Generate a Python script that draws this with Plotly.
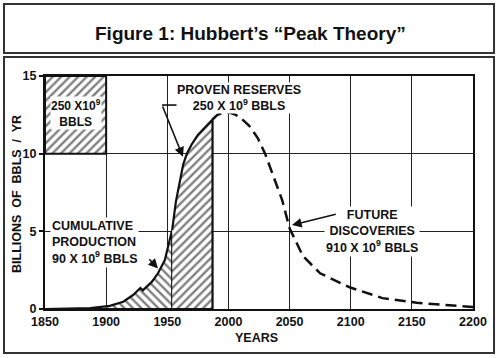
import plotly.graph_objects as go

# ---- data ----
prod_years = [1850, 1870, 1887, 1903, 1914, 1922, 1928, 1930, 1937.5, 1942.4, 1948, 1950.6, 1954]
prod_values = [0.0, 0.03, 0.06, 0.2, 0.47, 0.9, 1.35, 1.2, 1.76, 2.3, 3.15, 4.0, 5.1]

reserve_years = [1954, 1957, 1960, 1963, 1966, 1970, 1975, 1980, 1984, 1987]
reserve_values = [5.1, 6.9, 8.1, 9.3, 10.0, 10.6, 11.2, 11.6, 11.9, 12.2]

future_years = [1987, 1991, 1996, 2001, 2006, 2010, 2017, 2024, 2030, 2037, 2044, 2050,
                2061, 2075, 2099, 2126, 2154, 2200]
future_values = [12.2, 12.5, 12.65, 12.65, 12.5, 12.3, 11.8, 11.0, 10.0, 8.5, 7.0, 5.2,
                 3.4, 2.3, 1.4, 0.7, 0.4, 0.13]

box_years = [1850, 1900]
box_range = [10, 15]

x_ticks = [1850, 1900, 1950, 2000, 2050, 2100, 2150, 2200]
y_ticks = [0, 5, 10, 15]

FONT = "Liberation Sans"
INK = "#111111"

fig = go.Figure()

# Scale box 250 x 10^9
fig.add_trace(go.Scatter(
    x=[box_years[0], box_years[1], box_years[1], box_years[0], box_years[0]],
    y=[box_range[0], box_range[0], box_range[1], box_range[1], box_range[0]],
    mode="lines", fill="toself", fillcolor="white",
    fillpattern=dict(shape="/", size=6, solidity=0.4, fgcolor="#000000", bgcolor="white"),
    line=dict(color=INK, width=2), hoverinfo="skip", showlegend=False))

# Cumulative production (hatched "\")
fig.add_trace(go.Scatter(
    x=prod_years + [prod_years[-1], prod_years[0]],
    y=prod_values + [0, 0],
    mode="lines", fill="toself", fillcolor="white",
    fillpattern=dict(shape="\\", size=6, solidity=0.4, fgcolor="#000000", bgcolor="white"),
    line=dict(color=INK, width=2.2), hoverinfo="skip", showlegend=False))

# Proven reserves (hatched "/")
fig.add_trace(go.Scatter(
    x=reserve_years + [reserve_years[-1], reserve_years[0]],
    y=reserve_values + [0, 0],
    mode="lines", fill="toself", fillcolor="white",
    fillpattern=dict(shape="/", size=6, solidity=0.4, fgcolor="#000000", bgcolor="white"),
    line=dict(color=INK, width=2.2), hoverinfo="skip", showlegend=False))

# Future discoveries (dashed)
fig.add_trace(go.Scatter(
    x=future_years, y=future_values, mode="lines",
    line=dict(color=INK, width=2.5, dash="11px,6px"),
    hoverinfo="skip", showlegend=False))

tf = dict(family=FONT, size=12.5, color=INK, weight=700)

annotations = [
    dict(x=0.479, y=1.1845, xref="paper", yref="paper", showarrow=False,
         xanchor="center", yanchor="middle",
         text="<b>Figure 1: Hubbert\u2019s \u201cPeak Theory\u201d</b>",
         font=dict(family=FONT, size=19, color="#111111")),
    dict(x=0.493, y=-0.1245, xref="paper", yref="paper", showarrow=False,
         xanchor="center", yanchor="middle", text="YEARS", font=tf),
    dict(x=-0.0654, y=0.4936, xref="paper", yref="paper", showarrow=False, textangle=-90,
         xanchor="center", yanchor="middle", text="BILLIONS  OF  BBLS  /  YR", font=tf),
    dict(x=1875, y=12.6, xref="x", yref="y", showarrow=False,
         text="250 X10<sup>9</sup><br>BBLS", bgcolor="white", borderpad=0,
         font=dict(family=FONT, size=12, color=INK, weight=700)),
    dict(x=2009, y=13.6, xref="x", yref="y", showarrow=False,
         text="PROVEN RESERVES<br>250 X 10<sup>9</sup> BBLS", bgcolor="white", borderpad=0,
         font=tf),
    dict(x=1854, y=4.3, xref="x", yref="y", showarrow=False, xanchor="left", align="left",
         text="CUMULATIVE<br>PRODUCTION<br>90 X 10<sup>9</sup> BBLS", bgcolor="white", borderpad=1,
         font=tf),
    dict(x=2117, y=5.0, xref="x", yref="y", showarrow=False, align="center",
         text="FUTURE<br>DISCOVERIES<br>910 X 10<sup>9</sup> BBLS", bgcolor="white", borderpad=1,
         font=tf),
    # arrows
    dict(x=1962.8, y=9.8, ax=1945.7, ay=13.13, xref="x", yref="y", axref="x", ayref="y",
         text="", showarrow=True, arrowhead=2, arrowsize=1.2, arrowwidth=1.6, arrowcolor=INK),
    dict(x=1942.4, y=2.6, ax=1934.2, ay=3.3, xref="x", yref="y", axref="x", ayref="y",
         text="", showarrow=True, arrowhead=2, arrowsize=1.2, arrowwidth=1.6, arrowcolor=INK),
    dict(x=2052, y=5.4, ax=2089, ay=6.12, xref="x", yref="y", axref="x", ayref="y",
         text="", showarrow=True, arrowhead=2, arrowsize=1.2, arrowwidth=1.6, arrowcolor=INK),
]

shapes = [
    dict(type="rect", xref="paper", yref="paper", x0=-0.0958, x1=1.0491, y0=1.0987, y1=1.309,
         line=dict(color="#333333", width=2), layer="below"),
    dict(type="rect", xref="paper", yref="paper", x0=-0.0958, x1=1.0491, y0=-0.1888, y1=1.0815,
         line=dict(color="#333333", width=2), layer="below"),
    dict(type="line", xref="x", yref="y", x0=1945.7, x1=1960.4, y0=13.13, y1=13.13,
         line=dict(color=INK, width=1.6)),
]

fig.update_layout(
    width=500, height=358,
    margin=dict(l=45, r=27, t=76, b=49, autoexpand=False),
    paper_bgcolor="white", plot_bgcolor="white",
    showlegend=False,
    annotations=annotations, shapes=shapes,
    xaxis=dict(range=[1850, 2200], tickvals=x_ticks, ticktext=[str(v) for v in x_ticks],
               showgrid=True, gridcolor="#222222", gridwidth=1, zeroline=False,
               showline=True, linecolor=INK, linewidth=2, mirror=True, automargin=False,
               ticks="", tickfont=tf),
    yaxis=dict(range=[0, 15], tickvals=y_ticks, ticktext=[str(v) for v in y_ticks],
               showgrid=True, gridcolor="#222222", gridwidth=1, zeroline=False,
               showline=True, linecolor=INK, linewidth=2, mirror=True, automargin=False,
               ticks="outside", ticklen=4, tickwidth=1.5, tickcolor=INK, tickfont=tf),
)

fig.write_html(
    "out.html",
    config={"displayModeBar": False},
    post_script="document.body.style.margin='0';document.body.style.overflow='hidden';",
)
